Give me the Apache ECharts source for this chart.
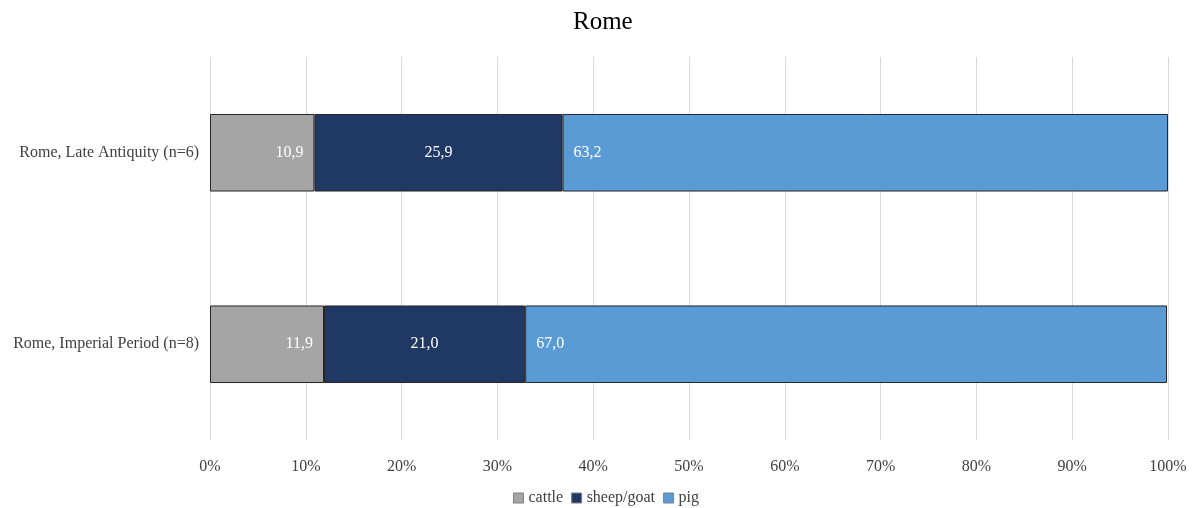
<!DOCTYPE html>
<html><head><meta charset="utf-8">
<script src="https://cdn.jsdelivr.net/npm/echarts@6/dist/echarts.min.js"></script>
<style>html,body{margin:0;padding:0;background:#fff}#c{width:1192px;height:508px}</style>
</head><body><div id="c"></div>
<script>
const categories = ["Rome, Imperial Period (n=8)", "Rome, Late Antiquity (n=6)"];
const cattle = [11.9, 10.9];
const sheepGoat = [21.0, 25.9];
const pig = [67.0, 63.2];
const seriesNames = ["cattle", "sheep/goat", "pig"];
const tickLabels = ["0%","10%","20%","30%","40%","50%","60%","70%","80%","90%","100%"];

const font = "'Liberation Serif', 'Times New Roman', serif";
const colors = ["#A5A5A5", "#203864", "#5B9BD5"];
const fmt = p => p.value.toFixed(1).replace('.', ',');
const positions = ["insideRight", "inside", "insideLeft"];
const dataSets = [cattle, sheepGoat, pig];

const chart = echarts.init(document.getElementById('c'));
chart.setOption({
  animation: false,
  textStyle: { fontFamily: font },
  title: { text: "Rome", left: 568, top: 5, textStyle: { fontFamily: font, fontSize: 25, fontWeight: 'normal', color: '#000' } },
  legend: {
    top: 485, left: 508, itemWidth: 10, itemHeight: 10, itemGap: 8,
    icon: 'rect',
    itemStyle: { borderColor: '#7f7f7f', borderWidth: 1 },
    textStyle: { fontFamily: font, fontSize: 16, color: '#404040', padding: [0, 0, 0, 0] },
    data: seriesNames
  },
  grid: { left: 210, right: 24, top: 57, bottom: 68, containLabel: false },
  xAxis: {
    type: 'value', min: 0, max: 100, interval: 10,
    axisLine: { show: false }, axisTick: { show: false },
    splitLine: { lineStyle: { color: '#D9D9D9' } },
    axisLabel: { fontFamily: font, fontSize: 16, color: '#404040', margin: 19,
      formatter: v => tickLabels[Math.round(v / 10)] }
  },
  yAxis: {
    type: 'category', data: categories,
    axisLine: { show: false }, axisTick: { show: false },
    axisLabel: { fontFamily: font, fontSize: 16, color: '#404040', margin: 11 }
  },
  series: seriesNames.map((n, i) => ({
    name: n, type: 'bar', stack: 'a', barWidth: '40.5%', data: dataSets[i],
    itemStyle: { color: colors[i], borderColor: '#262626', borderWidth: 1 },
    label: { show: true, position: positions[i], formatter: fmt, color: '#fff',
      fontFamily: font, fontSize: 16, distance: 11 }
  }))
});
</script></body></html>
